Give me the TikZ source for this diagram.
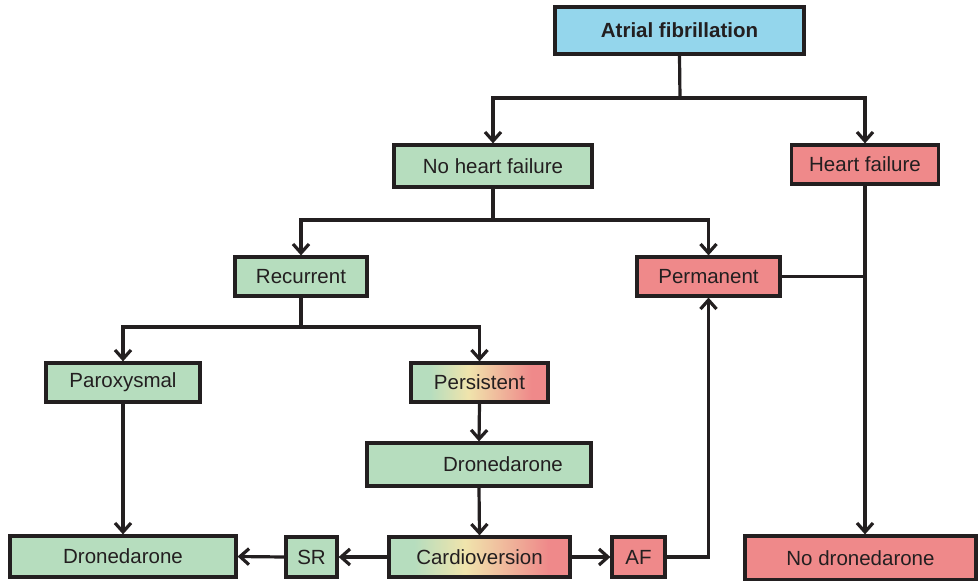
\documentclass[tikz,border=0pt]{standalone}
\usepackage{fontspec}
\setmainfont{Liberation Sans}
\usetikzlibrary{arrows.meta}
\definecolor{boxgreen}{RGB}{182,221,190}
\definecolor{boxred}{RGB}{239,137,138}
\definecolor{boxblue}{RGB}{148,214,236}
\definecolor{boxyellow}{RGB}{240,228,172}
\definecolor{ink}{RGB}{35,31,32}
% green -> yellow -> red, left to right (box spans 25bp..75bp)
\pgfdeclarehorizontalshading{gyr}{100bp}{color(0bp)=(boxgreen); color(32bp)=(boxgreen);
  color(46bp)=(boxyellow); color(69bp)=(boxred); color(100bp)=(boxred)}
\tikzset{
  box/.style={draw=ink, line width=3.2pt, inner sep=0pt, text=ink,
    font=\fontsize{20.5}{24}\selectfont},
  green/.style={box, fill=boxgreen},
  red/.style={box, fill=boxred},
  blue/.style={box, fill=boxblue, font=\fontsize{20.5}{24}\selectfont\bfseries},
  mixed/.style={box, shading=gyr},
  link/.style={draw=ink, line width=3.2pt},
  arr/.style={link, -{Straight Barb[length=9pt,width=16pt,line width=3.2pt]}},
  sz/.style 2 args={minimum width=#1pt, minimum height=#2pt}
}
\begin{document}
\begin{tikzpicture}[x=1pt,y=-1pt]
\useasboundingbox (0,0) rectangle (978,581);

% boxes
\node[blue, sz={249}{47}]  (af)    at (679.5,30.5) {Atrial fibrillation};
\node[green, sz={198}{42}] (nhf)   at (493,166)    {No heart failure};
\node[red, sz={147}{39}]   (hf)    at (865,164.5)  {Heart failure};
\node[green, sz={132}{39}] (rec)   at (301,276.5)  {Recurrent};
\node[red, sz={143}{39}]   (perm)  at (708.5,276.5){Permanent};
\node[green, sz={154}{39}] (par)   at (123,382.5)  {Paroxysmal};
\node[mixed, sz={137}{39}] (pers)  at (479.5,382.5){Persistent};
\node[green, sz={224}{43}] (dronb) at (479,464.5)  {\hspace*{48pt}Dronedarone};
\node[mixed, sz={181}{40}] (card)  at (479.5,557)  {Cardioversion};
\node[red, sz={53}{40}]    (afb)   at (638.5,557)  {AF};
\node[green, sz={51}{40}]  (sr)    at (311.5,557)  {SR};
\node[green, sz={226}{41}] (drona) at (123,556.5)  {Dronedarone};
\node[red, sz={231}{44}]   (nodr)  at (860.5,558)  {No dronedarone};

% branch points
\coordinate (j1) at (680,98);
\coordinate (j2) at (493,220);
\coordinate (j3) at (301,327);

% connectors
\draw[link] (af.south) -- (j1);
\draw[arr] (j1) -| (nhf.north);
\draw[arr] (j1) -| (hf.north);

\draw[link] (nhf.south) -- (j2);
\draw[arr] (j2) -| (rec.north);
\draw[arr] (j2) -| (perm.north);

\draw[link] (rec.south) -- (j3);
\draw[arr] (j3) -| (par.north);
\draw[arr] (j3) -| (pers.north);

\draw[arr] (pers.south) -- (dronb.north);
\draw[arr] (dronb.south) -- (card.north);
\draw[arr] (card.east) -- (afb.west);
\draw[arr] (afb.east) -| (perm.south);
\draw[arr] (card.west) -- (sr.east);
\draw[arr] (sr.west) -- (drona.east);
\draw[arr] (par.south) -- (drona.north);

\draw[arr] (hf.south) -- (hf.south |- nodr.north);
\draw[link] (perm.east) -- (perm.east -| hf.south);
\end{tikzpicture}
\end{document}
